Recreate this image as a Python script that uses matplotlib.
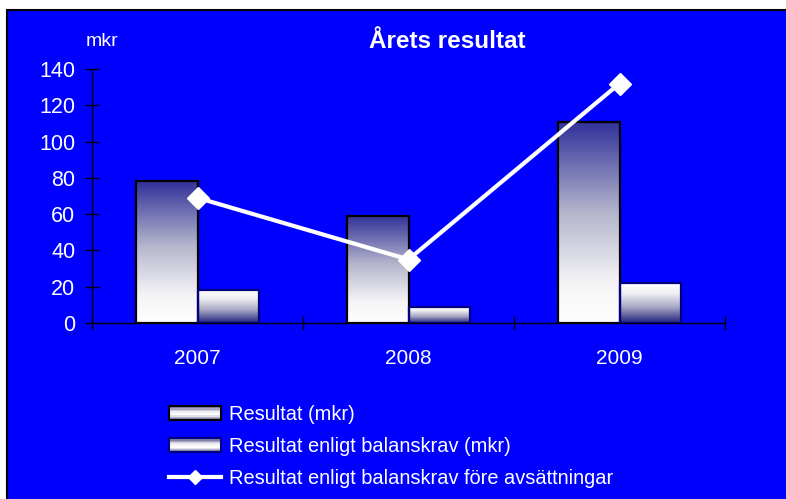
import numpy as np
import matplotlib
matplotlib.use("Agg")
from matplotlib import pyplot as plt
from matplotlib.colors import LinearSegmentedColormap
from matplotlib.patches import Rectangle, Patch
from matplotlib.lines import Line2D
from matplotlib.legend_handler import HandlerPatch

plt.rcParams['font.family'] = ['Liberation Sans', 'DejaVu Sans']

ar = ['2007', '2008', '2009']
resultat = [78, 59, 111]
balanskrav = [18, 9, 22]
fore_avsattningar = [69, 35, 132]
etiketter = ['Resultat (mkr)', 'Resultat enligt balanskrav (mkr)',
             'Resultat enligt balanskrav före avsättningar']

BLA = '#0000ff'
fig = plt.figure(figsize=(7.86, 4.99), dpi=100)
fig.patch.set_facecolor('white')
fig.patches.append(Rectangle((7 / 786, -0.01), 1, 1 - 10 / 499 + 0.01,
                             transform=fig.transFigure, facecolor=BLA,
                             edgecolor='black', linewidth=1.5, zorder=-10))

ax = fig.add_axes([92 / 786, 1 - 323 / 499, (725 - 92) / 786, (323 - 69) / 499])
ax.set_facecolor(BLA)
ax.patch.set_alpha(0)

cm_upp = LinearSegmentedColormap.from_list('upp', [(0, '#ffffff'), (0.2, '#f4f4f6'),
                                                   (0.55, '#b4b4cc'), (1, '#30309a')])
cm_ner = LinearSegmentedColormap.from_list('ner', [(0, '#ffffff'), (0.25, '#f0f0f4'),
                                                   (0.6, '#a8a8c4'), (1, '#20207e')])
grad = np.linspace(0, 1, 256).reshape(-1, 1)

bredd = 0.29
x = np.arange(len(ar)) + 0.5


def gradientstapel(x0, h, cmap, kant, vand):
    bar = Rectangle((x0, 0), bredd, h, facecolor='none', edgecolor=kant,
                    linewidth=1.6, zorder=3)
    ax.add_patch(bar)
    g = grad[::-1] if vand else grad
    im = ax.imshow(g, extent=[x0, x0 + bredd, 0, h], aspect='auto', cmap=cmap,
                   origin='lower', zorder=2)
    im.set_clip_path(bar)


class GradientHandtag(HandlerPatch):
    # legendruta med vertikal gradient: mörk kant, vit mitt
    def create_artists(self, legend, orig_handle, xdescent, ydescent,
                       width, height, fontsize, trans):
        n = 12
        delar = []
        cmap = LinearSegmentedColormap.from_list('leg', ['#5a5a90', '#ffffff', '#e8e8f0', '#5a5a90'])
        for k in range(n):
            r = Rectangle((-xdescent, -ydescent + height * k / n), width, height / n + 0.3,
                          facecolor=cmap(k / (n - 1)), edgecolor='none', transform=trans)
            delar.append(r)
        ram = Rectangle((-xdescent, -ydescent), width, height, facecolor='none',
                        edgecolor=orig_handle.get_edgecolor(), linewidth=1.5, transform=trans)
        delar.append(ram)
        return delar


for i in range(len(ar)):
    gradientstapel(x[i] - bredd, resultat[i], cm_upp, 'black', False)
    gradientstapel(x[i], balanskrav[i], cm_ner, '#000080', True)

ax.plot(x, fore_avsattningar, color='white', linewidth=3, marker='D',
        markersize=11, zorder=5)

ax.set_xlim(0, 3)
ax.set_ylim(0, 140)
ax.set_yticks(range(0, 141, 20))
ax.set_xticks(x)
ax.set_xticklabels(ar)
ax.set_xticks([0, 1, 2, 3], minor=True)
ax.tick_params(axis='x', which='major', length=0, pad=19, labelsize=15, labelcolor='white')
ax.tick_params(axis='x', which='minor', direction='inout', length=10, width=1)
ax.tick_params(axis='y', direction='inout', length=10, width=1, pad=7,
               labelsize=15.5, labelcolor='white')
for s in ['top', 'right']:
    ax.spines[s].set_visible(False)
for s in ['left', 'bottom']:
    ax.spines[s].set_linewidth(1)

fig.text(447 / 786, 1 - 42 / 499, 'Årets resultat', ha='center', va='center',
         fontsize=17.5, fontweight='bold', color='white')
fig.text(102 / 786, 1 - 41 / 499, 'mkr', ha='center', va='center',
         fontsize=14, color='white')

handtag = [Patch(facecolor='#d4d4e2', edgecolor='black', linewidth=1.5),
           Patch(facecolor='#d4d4e2', edgecolor='#000080', linewidth=1.5),
           Line2D([], [], color='white', linewidth=3, marker='D', markersize=7)]
fig.legend(handtag, etiketter, loc='upper left',
           bbox_to_anchor=(151 / 786, 1 - 387 / 499), frameon=False,
           fontsize=14.4, labelcolor='white', handlelength=2.6,
           handleheight=0.7, labelspacing=0.66, handletextpad=0.4,
           handler_map={Patch: GradientHandtag()})

fig.savefig('out.png', dpi=100)
